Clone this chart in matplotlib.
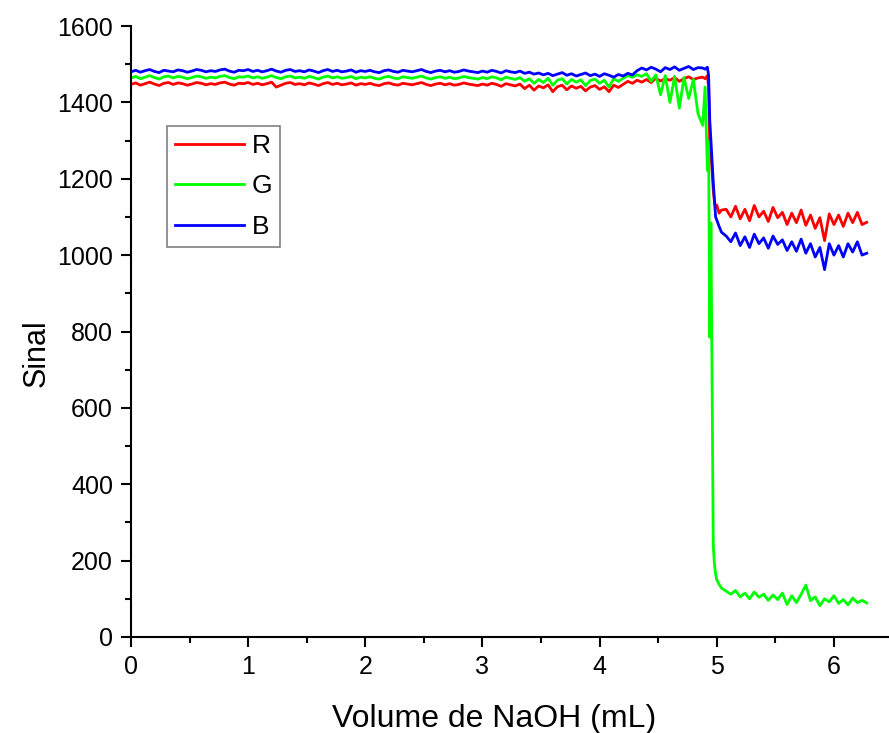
import numpy as np
import matplotlib
matplotlib.use('Agg')
import matplotlib.pyplot as plt
from matplotlib.ticker import MultipleLocator

plt.rcParams['font.family'] = ['Liberation Sans', 'DejaVu Sans']

# volume grid (mL): plateau, transition, tail
vol_plateau = np.round(np.arange(0, 4.87, 0.04), 2)
vol_jump = [4.88, 4.90, 4.92, 4.93, 4.94, 4.95, 4.96, 4.97, 4.98, 4.99, 5.00, 5.02, 5.04]
vol_tail = np.round(np.arange(5.08, 6.29, 0.04), 2)
volume = np.concatenate([vol_plateau, vol_jump, vol_tail])

r_plateau = [1447, 1451, 1445, 1449, 1453, 1448, 1444, 1450, 1452, 1447, 1451, 1449, 1445, 1448, 1452, 1450, 1446, 1449, 1447, 1451, 1453, 1448, 1445, 1450, 1449,
             1452, 1447, 1450, 1446, 1449, 1453, 1440, 1445, 1450, 1452, 1447, 1449, 1446, 1451, 1448, 1444, 1449, 1452, 1447, 1450, 1446, 1448, 1451, 1445, 1449,
             1447, 1450, 1446, 1444, 1449, 1451, 1447, 1445, 1450, 1448, 1446, 1449, 1452, 1447, 1444, 1448, 1450, 1446, 1449, 1445, 1447, 1451, 1448, 1446, 1444,
             1448, 1445, 1450, 1447, 1442, 1449, 1446, 1443, 1448, 1436, 1445, 1432, 1443, 1438, 1446, 1428, 1441, 1445, 1433, 1443, 1437, 1442, 1430, 1440, 1444,
             1434, 1441, 1428, 1445, 1439, 1447, 1455, 1450, 1458, 1453, 1460, 1452, 1463, 1456, 1462, 1458, 1465, 1455, 1462, 1467, 1460, 1464]
g_plateau = [1464, 1468, 1462, 1466, 1470, 1465, 1461, 1467, 1469, 1464, 1468, 1466, 1462, 1465, 1469, 1467, 1463, 1466, 1464, 1468, 1470, 1465, 1462, 1467, 1466,
             1469, 1464, 1467, 1463, 1466, 1470, 1465, 1462, 1467, 1469, 1464, 1466, 1463, 1468, 1465, 1461, 1466, 1469, 1464, 1467, 1463, 1465, 1468, 1462, 1466,
             1464, 1467, 1463, 1461, 1466, 1468, 1464, 1462, 1467, 1465, 1463, 1466, 1469, 1464, 1461, 1465, 1467, 1463, 1466, 1462, 1464, 1468, 1465, 1463, 1461,
             1465, 1462, 1467, 1464, 1459, 1466, 1463, 1460, 1465, 1455, 1462, 1450, 1460, 1452, 1463, 1445, 1458, 1462, 1448, 1460, 1453, 1459, 1444, 1457, 1461,
             1450, 1458, 1440, 1462, 1455, 1463, 1470, 1466, 1472, 1468, 1475, 1455, 1472, 1420, 1470, 1400, 1468, 1385, 1465, 1410, 1460, 1370]
b_plateau = [1480, 1484, 1479, 1483, 1486, 1481, 1478, 1484, 1482, 1480, 1485, 1483, 1479, 1482, 1486, 1484, 1480, 1483, 1481, 1485, 1487, 1482, 1479, 1484, 1483,
             1486, 1481, 1484, 1480, 1483, 1487, 1482, 1479, 1484, 1486, 1481, 1483, 1480, 1485, 1482, 1478, 1483, 1486, 1481, 1484, 1480, 1482, 1485, 1479, 1483,
             1481, 1484, 1480, 1478, 1483, 1485, 1481, 1479, 1484, 1482, 1480, 1483, 1486, 1481, 1478, 1482, 1484, 1480, 1483, 1479, 1481, 1485, 1482, 1480, 1478,
             1482, 1479, 1484, 1481, 1477, 1483, 1480, 1478, 1482, 1476, 1479, 1474, 1477, 1472, 1476, 1470, 1474, 1478, 1471, 1475, 1469, 1473, 1477, 1470, 1474,
             1468, 1475, 1471, 1466, 1473, 1469, 1476, 1472, 1483, 1490, 1485, 1492, 1487, 1480, 1491, 1486, 1493, 1484, 1489, 1494, 1486, 1491]

r_jump = [1466, 1462, 1470, 1440, 1290, 1270, 1220, 1170, 1140, 1125, 1131, 1110, 1118]
g_jump = [1340, 1440, 1222, 1300, 785, 1084, 650, 240, 190, 165, 150, 138, 128]
b_jump = [1490, 1487, 1492, 1470, 1355, 1300, 1250, 1190, 1144, 1100, 1092, 1075, 1060]

r_tail = [1120, 1100, 1128, 1095, 1120, 1090, 1130, 1100, 1115, 1088, 1125, 1098, 1112, 1080, 1110, 1085,
          1118, 1078, 1105, 1070, 1098, 1038, 1108, 1080, 1105, 1075, 1110, 1085, 1112, 1080, 1086]
g_tail = [120, 112, 122, 105, 115, 100, 118, 104, 112, 96, 110, 98, 115, 85, 108, 90,
          112, 136, 95, 105, 82, 100, 92, 108, 88, 98, 84, 102, 90, 96, 89]
b_tail = [1050, 1035, 1058, 1025, 1048, 1020, 1055, 1030, 1045, 1018, 1050, 1028, 1040, 1012, 1035, 1010,
          1042, 1005, 1030, 995, 1020, 962, 1030, 1000, 1025, 995, 1030, 1008, 1035, 1000, 1005]

sig_r = r_plateau + r_jump + r_tail
sig_g = g_plateau + g_jump + g_tail
sig_b = b_plateau + b_jump + b_tail

fig = plt.figure(figsize=(8.89, 7.33), dpi=100)
ax = fig.add_axes([131 / 889, 1 - 637 / 733, 758 / 889, 611 / 733])

ax.plot(volume, sig_r, color='#ff0000', lw=2, label='R')
ax.plot(volume, sig_g, color='#00ff00', lw=2, label='G')
ax.plot(volume, sig_b, color='#0000ff', lw=2, label='B')

ax.set_xlim(0, 6.47)
ax.set_ylim(0, 1600)
ax.xaxis.set_major_locator(MultipleLocator(1))
ax.xaxis.set_minor_locator(MultipleLocator(0.5))
ax.yaxis.set_major_locator(MultipleLocator(200))
ax.yaxis.set_minor_locator(MultipleLocator(100))

for s in ['top', 'right']:
    ax.spines[s].set_visible(False)
for s in ['left', 'bottom']:
    ax.spines[s].set_linewidth(1.5)

ax.tick_params(which='major', direction='out', length=7, width=1.5, labelsize=18, pad=6)
ax.tick_params(which='minor', direction='out', length=4, width=1.5)

ax.set_xlabel('Volume de NaOH (mL)', fontsize=23)
ax.xaxis.set_label_coords(0.479, -0.11)
ax.set_ylabel('Sinal', fontsize=22)
ax.yaxis.set_label_coords(-0.105, 0.465)

leg = ax.legend(loc='upper left', bbox_to_anchor=(0.0475, 0.836), fontsize=19,
                frameon=True, fancybox=False, framealpha=1, edgecolor='#808080',
                handlelength=2.6, handletextpad=0.3, labelspacing=0.62, borderpad=0.3,
                borderaxespad=0)
leg.get_frame().set_linewidth(1.2)

fig.savefig('out.png', dpi=100)
